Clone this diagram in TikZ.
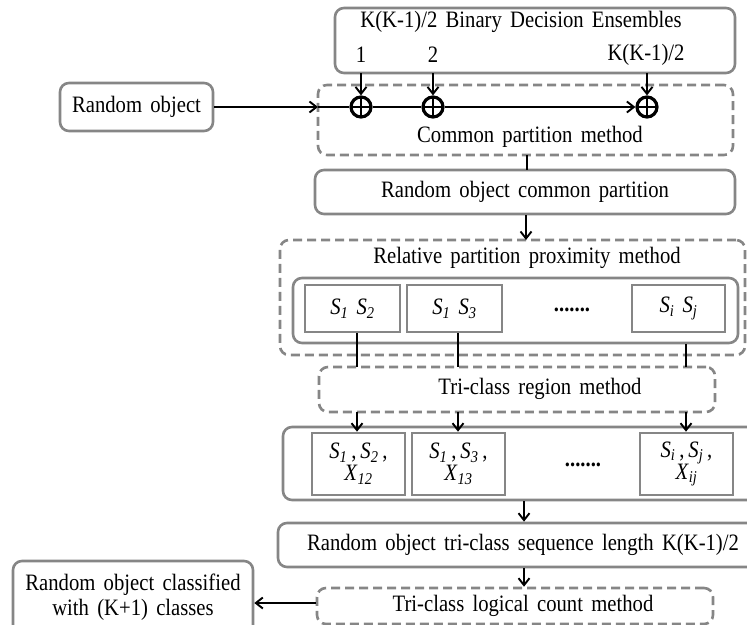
\documentclass[tikz,border=0pt]{standalone}
\usepackage{fontspec}
\setmainfont{Liberation Serif}[FakeStretch=0.88,WordSpace=1.6]
\usetikzlibrary{arrows.meta}
\newcommand\Sv[1]{\textit{S}\textsubscript{\textit{#1}}}
\newcommand\Xv[1]{\textit{X}\textsubscript{\textit{#1}}}
\begin{document}
\begin{tikzpicture}[x=1pt,y=-1pt,
  font=\fontsize{23.5}{25}\selectfont,
  sbox/.style={draw=gray!95!white,line width=2.6pt,rounded corners=9pt,inner sep=0pt},
  dbox/.style={sbox,dash pattern=on 9pt off 5pt},
  rbox/.style={draw=gray!95!white,line width=2.6pt,inner sep=0pt},
  arr/.style={line width=1.9pt,-{Straight Barb[length=7pt,width=11pt,line width=1.9pt]}},
  ln/.style={line width=1.9pt},
  oplus/.style={circle,draw,line width=3.2pt,minimum size=20pt,inner sep=0pt,
    path picture={\draw[line width=2.8pt] (path picture bounding box.north) -- (path picture bounding box.south)
      (path picture bounding box.west) -- (path picture bounding box.east);}},
  txt/.style={inner sep=0pt}]
\useasboundingbox (0,0) rectangle (747,624);
% top ensemble box
\node[sbox,minimum width=400,minimum height=65] (ens) at (535,40.5) {};
\node[txt] (enst) at (521,22) {K(K-1)/2 Binary Decision Ensembles};
\node[txt] (l1) at (361,55) {1};
\node[txt] (l2) at (433,55) {2};
\node[txt] (l3) at (646,55) {K(K-1)/2};
% common partition method
\node[dbox,minimum width=415,minimum height=70] (cpm) at (525.5,120) {};
\node[txt] (cpmt) at (530,137) {Common partition method};
\node[oplus] (c1) at (361,107) {};
\node[oplus] (c2) at (433,107) {};
\node[oplus] (c3) at (647,107) {};
\coordinate (t1) at (361,73);
\coordinate (t2) at (433,73);
\coordinate (t3) at (647,73);
\draw[arr] (t1) -- (c1.north);
\draw[arr] (t2) -- (c2.north);
\draw[arr] (t3) -- (c3.north);
% random object
\node[sbox,minimum width=153,minimum height=48] (ro) at (136.5,107) {Random object};
\coordinate (cpin) at (318,107);
\draw[arr] (ro.east) -- (cpin);
\draw[ln] (cpin) -- (c1.west);
\draw[ln] (c1.east) -- (c2.west);
\draw[arr] (c2.east) -- (c3.west);
% common partition result
\node[sbox,minimum width=420,minimum height=44] (rocp) at (525,192) {Random object common partition};
\coordinate (cpb) at (527,155);
\draw[ln] (cpb) -- (527,170);
% relative partition proximity
\node[dbox,minimum width=465,minimum height=115] (rpp) at (512.5,297.5) {};
\node[txt] (rppt) at (527,258) {Relative partition proximity method};
\draw[arr] (rocp.south -| 526,0) -- (526,240);
\node[sbox,minimum width=445,minimum height=65] (inner) at (515.5,310.5) {};
\node[rbox,minimum width=95,minimum height=47] (a1) at (352.5,308.5) {\Sv{1}\ \Sv{2}};
\node[rbox,minimum width=95,minimum height=47] (a2) at (454.5,308.5) {\Sv{1}\ \Sv{3}};
\node[rbox,minimum width=93,minimum height=47] (a3) at (678.5,308.5) {\Sv{i}\ \Sv{j}};
\node[txt] (d1) at (572,310) {\textbf{.......}};
% tri-class region
\node[dbox,minimum width=396,minimum height=45] (tcr) at (517,389.5) {};
\node[txt] (tcrt) at (540,389) {Tri-class region method};
\draw[ln] (a1.south -| 357,0) -- (357,367);
\draw[ln] (a2.south -| 458,0) -- (458,367);
\draw[ln] (inner.south -| 686,0) -- (686,367);
% lower row
\node[sbox,minimum width=480,minimum height=73] (lower) at (523,463.5) {};
\node[rbox,minimum width=93,minimum height=62,align=center] (b1) at (358.5,464) {\Sv{1}\,,\,\Sv{2}\,,\\[-3pt]\Xv{12}};
\node[rbox,minimum width=93,minimum height=62,align=center] (b2) at (458.5,464) {\Sv{1}\,,\,\Sv{3}\,,\\[-3pt]\Xv{13}};
\node[rbox,minimum width=93,minimum height=62,align=center] (b3) at (686.5,464) {\Sv{i}\,,\,\Sv{j}\,,\\[-3pt]\Xv{ij}};
\node[txt] (d2) at (583,465) {\textbf{.......}};
\draw[arr] (357,412) -- (b1.north -| 357,0);
\draw[arr] (458,412) -- (b2.north -| 458,0);
\draw[arr] (686,412) -- (b3.north -| 686,0);
% sequence
\node[sbox,minimum width=482,minimum height=44] (seq) at (519,545) {};
\node[txt] (seqt) at (523,545) {Random object tri-class sequence length K(K-1)/2};
\draw[arr] (lower.south -| 524,0) -- (seq.north -| 524,0);
% logical count
\node[dbox,minimum width=396,minimum height=36] (tlc) at (515,606) {};
\node[txt] (tlct) at (523,606) {Tri-class logical count method};
\draw[arr] (seq.south -| 524,0) -- (tlc.north -| 524,0);
% classified
\node[sbox,minimum width=240,minimum height=80] (cls) at (133,601) {};
\node[txt,align=center] (clst) at (133,597) {Random object classified\\with (K+1) classes};
\draw[arr] (tlc.west |- 0,603) -- (cls.east |- 0,603);
\end{tikzpicture}
\end{document}
